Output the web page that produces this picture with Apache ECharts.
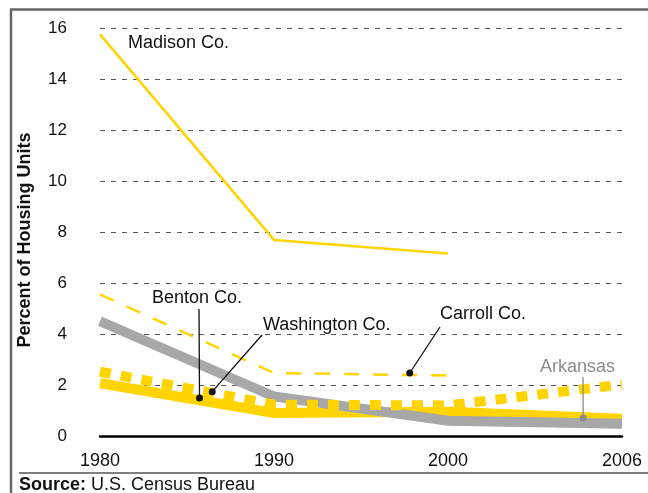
<!DOCTYPE html>
<html lang="en">
<head>
    <meta charset="UTF-8">
    <title>Percent of Housing Units</title>
    <style>
      html, body { margin: 0; padding: 0; background: #fff; }
    </style>
</head>
<body>
    <div id="img" style="height: 493px; width: 648px;"></div>

    <script src="https://cdn.jsdelivr.net/npm/echarts@6/dist/echarts.min.js"></script>
    <script type="text/javascript">
      // data
      var years = ['1980', '1990', '2000', '2006'];
      var yTicks = [0, 2, 4, 6, 8, 10, 12, 14, 16];
      var madison = [15.75, 7.69, 7.16];
      var carroll = [5.55, 2.47, 2.37];
      var arkansas = [4.5, 1.55, 0.6, 0.48];
      var washington = [2.52, 1.23, 1.2, 2.02];
      var benton = [2.07, 0.9, 0.95, 0.68];

      // where the leader dots sit (x as year index, y in percent)
      var bentonDot = [0.572, 1.49];
      var washingtonDot = [0.645, 1.74];
      var carrollDot = [1.78, 2.47];
      var arkansasDot = [2.777, 0.71];

      var yellow = '#ffd400';
      var font = '"Liberation Sans", Arial, Helvetica, sans-serif';

      var toPairs = function (arr) {
        return arr.map(function (v, i) { return [i, v]; });
      };

      var myChart = echarts.init(document.getElementById('img'));

      var option = {
        animation: false,
        backgroundColor: '#fff',
        textStyle: { fontFamily: font },
        grid: { left: 100, right: 26, top: 28, bottom: 57 },
        xAxis: {
          type: 'value',
          min: 0,
          max: years.length - 1,
          interval: 1,
          axisLine: { lineStyle: { color: '#000', width: 2.5 } },
          axisTick: { show: false },
          splitLine: { show: false },
          axisLabel: {
            color: '#111',
            fontSize: 18,
            margin: 16,
            fontFamily: font,
            formatter: function (v) { return years[v]; }
          }
        },
        yAxis: {
          type: 'value',
          min: yTicks[0],
          max: yTicks[yTicks.length - 1],
          interval: 2,
          axisLine: { show: false },
          axisTick: { show: false },
          axisLabel: { color: '#111', fontSize: 17, margin: 33, fontFamily: font },
          splitLine: { lineStyle: { color: '#555', width: 1, type: [5, 6] } }
        },
        series: [
          {
            name: 'Benton Co.', type: 'line', data: toPairs(benton),
            symbol: 'none', z: 2,
            lineStyle: { color: yellow, width: 10, cap: 'butt', join: 'miter' }
          },
          {
            name: 'Arkansas', type: 'line', data: toPairs(arkansas),
            symbol: 'none', z: 3,
            lineStyle: { color: '#a8a8a8', width: 10, cap: 'butt', join: 'miter' }
          },
          {
            name: 'Washington Co.', type: 'line', data: toPairs(washington),
            symbol: 'none', z: 4,
            lineStyle: { color: yellow, width: 10, type: [11, 10], cap: 'butt' }
          },
          {
            name: 'Carroll Co.', type: 'line', data: toPairs(carroll),
            symbol: 'none', z: 5,
            lineStyle: { color: yellow, width: 2.5, type: [15, 14] }
          },
          {
            name: 'Madison Co.', type: 'line', data: toPairs(madison),
            symbol: 'none', z: 6,
            lineStyle: { color: yellow, width: 2.5 }
          }
        ]
      };
      myChart.setOption(option);

      var px = function (p) { return myChart.convertToPixel({ gridIndex: 0 }, p); };

      // leader line from a label anchor to a dot on a series
      var leader = function (id, from, dot, color) {
        var d = px(dot);
        return [
          { type: 'line', id: id + 'L', z: 20,
            shape: { x1: from[0], y1: from[1], x2: d[0], y2: d[1] },
            style: { stroke: color, lineWidth: 1.3 } },
          { type: 'circle', id: id + 'C', z: 21,
            shape: { cx: d[0], cy: d[1], r: 3.5 },
            style: { fill: color } }
        ];
      };

      var label = function (id, text, x, y, color) {
        return { type: 'text', id: id, z: 22, x: x, y: y,
          style: { text: text, fill: color || '#111', font: '18px ' + font,
                   align: 'left', verticalAlign: 'middle' } };
      };

      var graphics = [
        // frame
        { type: 'line', z: 30, shape: { x1: 10, y1: 9.5, x2: 648, y2: 9.5 },
          style: { stroke: '#666', lineWidth: 2.5 } },
        { type: 'line', z: 30, shape: { x1: 11, y1: 9, x2: 11, y2: 493 },
          style: { stroke: '#666', lineWidth: 2.5 } },
        { type: 'line', z: 30, shape: { x1: 19, y1: 473, x2: 648, y2: 473 },
          style: { stroke: '#555', lineWidth: 1.5 } },
        // axis title
        { type: 'text', z: 30, x: 25, y: 240, rotation: Math.PI / 2,
          style: { text: 'Percent of Housing Units', fill: '#111',
                   font: 'bold 18px ' + font, align: 'center', verticalAlign: 'middle' } },
        // source
        { type: 'text', z: 30, x: 19, y: 485,
          style: { text: '{b|Source:} U.S. Census Bureau', fill: '#111',
                   font: '18px ' + font, verticalAlign: 'middle',
                   rich: { b: { fontWeight: 'bold', fontSize: 18, fontFamily: font } } } },
        label('madT', 'Madison Co.', 128, 43),
        label('benT', 'Benton Co.', 152, 298),
        label('wasT', 'Washington Co.', 263, 325),
        label('carT', 'Carroll Co.', 440, 314),
        label('arkT', 'Arkansas', 540, 367, '#8c8c8c')
      ];
      graphics = graphics
        .concat(leader('ben', [199, 309], bentonDot, '#111'))
        .concat(leader('was', [262, 335], washingtonDot, '#111'))
        .concat(leader('car', [440, 327], carrollDot, '#111'))
        .concat(leader('ark', [583, 377], arkansasDot, '#8c8c8c'));

      myChart.setOption({ graphic: graphics });
    </script>
</body>
</html>
